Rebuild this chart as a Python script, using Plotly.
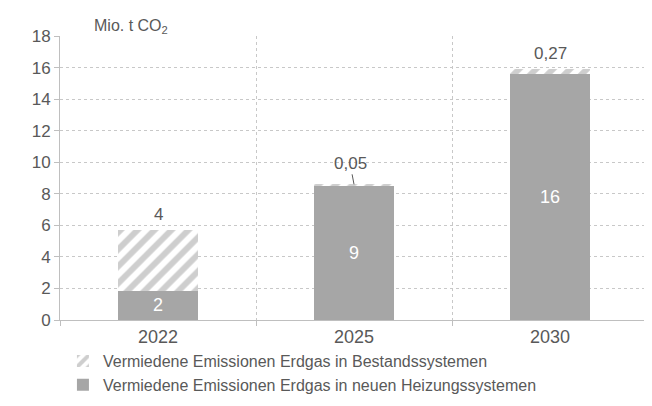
import plotly.graph_objects as go

# Daten (Mio. t CO2)
jahre = ['2022', '2025', '2030']
neue_heizungen = [1.85, 8.55, 15.62]
bestand = [3.85, 0.05, 0.27]

namen = {
    'bestand': 'Vermiedene Emissionen Erdgas in Bestandssystemen',
    'neu': 'Vermiedene Emissionen Erdgas in neuen Heizungssystemen',
}

grau = '#a6a6a6'
text_grau = '#595959'
schrift = 'Liberation Sans, Arial, sans-serif'


def label(v):
    # ganze Zahlen ab 1, sonst zwei Nachkommastellen mit Komma
    return f'{v:.0f}' if v >= 1 else f'{v:.2f}'.replace('.', ',')


fig = go.Figure()

fig.add_trace(go.Bar(
    x=jahre, y=neue_heizungen, name=namen['neu'],
    marker=dict(color=grau, line=dict(width=0)),
    text=[label(v) for v in neue_heizungen],
    textposition='inside', insidetextanchor='middle',
    textfont=dict(color='white', size=18, family=schrift),
    width=0.41,
))

fig.add_trace(go.Bar(
    x=jahre, y=bestand, name=namen['bestand'],
    marker=dict(color='white', line=dict(width=0),
                pattern=dict(shape='/', fgcolor='#9e9e9e', bgcolor='white',
                             size=12, solidity=0.5)),
    width=0.41,
))

# Beschriftungen über den Balken
for i, (n, b) in enumerate(zip(neue_heizungen, bestand)):
    winzig = b < 0.1
    fig.add_annotation(
        x=i, y=n + b, text=label(b),
        showarrow=winzig, arrowhead=0, arrowwidth=1, arrowcolor=text_grau,
        ax=-4, ay=-21,
        yshift=0 if winzig else 16,
        font=dict(size=17, color=text_grau, family=schrift),
    )

fig.add_annotation(
    text='Mio. t CO<sub>2</sub>', xref='paper', yref='paper',
    x=0.055, y=1.0, yshift=-2, xanchor='left', yanchor='bottom', showarrow=False,
    font=dict(size=16, color=text_grau, family=schrift),
)

fig.update_layout(
    width=652, height=406,
    margin=dict(l=52, r=12, t=28, b=81),
    barmode='stack',
    plot_bgcolor='white', paper_bgcolor='white',
    font=dict(family=schrift, color=text_grau, size=18),
    showlegend=True,
    legend=dict(
        orientation='v', traceorder='reversed',
        x=0.005, y=-0.085, xanchor='left', yanchor='top',
        bgcolor='rgba(0,0,0,0)',
        font=dict(size=16, color=text_grau, family=schrift),
        tracegroupgap=0, itemwidth=30,
    ),
    separators=',.',
)

fig.update_xaxes(
    type='category', tickson='boundaries', range=[-0.5, 2.5],
    showline=True, linecolor='#bfbfbf', linewidth=1,
    ticks='outside', ticklen=5, tickcolor='#bfbfbf',
    showgrid=True, gridcolor='#c8c8c8', griddash='dot', gridwidth=1,
    tickfont=dict(size=18, color=text_grau),
)

fig.update_yaxes(
    range=[0, 18], dtick=2,
    showline=True, linecolor='#bfbfbf', linewidth=1,
    ticks='outside', ticklen=5, tickcolor='#bfbfbf',
    showgrid=True, gridcolor='#c8c8c8', griddash='dot', gridwidth=1,
    zeroline=False,
    tickfont=dict(size=17, color=text_grau),
)

fig.write_html('out.html')
